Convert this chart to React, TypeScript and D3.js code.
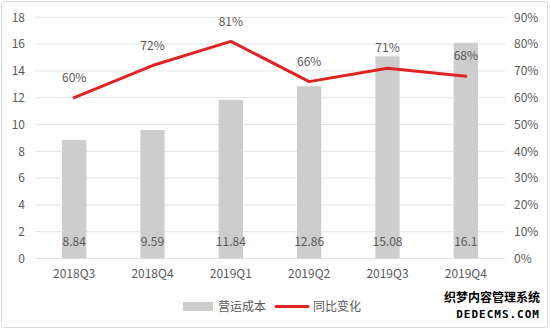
import React from "react";
import * as d3 from "d3";

const categories = ["2018Q3", "2018Q4", "2019Q1", "2019Q2", "2019Q3", "2019Q4"];
const costValues = [8.84, 9.59, 11.84, 12.86, 15.08, 16.1];
const costLabels = ["8.84", "9.59", "11.84", "12.86", "15.08", "16.1"];
const yoyValues = [60, 72, 81, 66, 71, 68];
const leftTicks = [0, 2, 4, 6, 8, 10, 12, 14, 16, 18];
const rightTicks = [0, 10, 20, 30, 40, 50, 60, 70, 80, 90];
const legendNames = ["营运成本", "同比变化"];

const W = 550;
const H = 330;
const plotLeft = 35;
const plotRight = 505;
const plotTop = 17.3;
const plotBottom = 258.5;
const font = "'Noto Sans CJK SC', 'Liberation Sans', sans-serif";
const textColor = "#595959";

export default function App() {
  const x = d3.scaleBand<string>().domain(categories).range([plotLeft, plotRight]).paddingInner(0.69).paddingOuter(0.345);
  const yL = d3.scaleLinear().domain([0, 18]).range([plotBottom, plotTop]);
  const yR = d3.scaleLinear().domain([0, 90]).range([plotBottom, plotTop]);
  const cx = (c: string) => (x(c) as number) + x.bandwidth() / 2;
  const line = d3
    .line<number>()
    .x((_, i) => cx(categories[i]))
    .y((d) => yR(d));

  return (
    <svg width={W} height={H} style={{ position: "absolute", left: 0, top: 0 }} fontFamily={font}>
      <rect x={0} y={0} width={W} height={H} fill="#ffffff" />
      <rect x={1.5} y={1.5} width={W - 4} height={H - 4} fill="none" stroke="#d9d9d9" strokeWidth={1} rx={3} />
      {leftTicks.map((t) => (
        <line key={"g" + t} x1={plotLeft} x2={plotRight} y1={yL(t)} y2={yL(t)} stroke="#e3e3e3" strokeWidth={1} />
      ))}
      {leftTicks.map((t) => (
        <text key={"l" + t} x={25} y={yL(t)} dy="0.35em" textAnchor="end" fontSize={12} fill={textColor}>
          {t}
        </text>
      ))}
      {rightTicks.map((t) => (
        <text key={"r" + t} x={514} y={yR(t)} dy="0.35em" textAnchor="start" fontSize={12} fill={textColor}>
          {t + "%"}
        </text>
      ))}
      {categories.map((c, i) => (
        <rect key={"b" + c} x={x(c)} y={yL(costValues[i])} width={x.bandwidth()} height={plotBottom - yL(costValues[i])} fill="#cdcdcd" />
      ))}
      {categories.map((c, i) => (
        <text key={"bl" + c} x={cx(c)} y={241.5} dy="0.35em" textAnchor="middle" fontSize={12} fill={textColor}>
          {costLabels[i]}
        </text>
      ))}
      {categories.map((c) => (
        <text key={"x" + c} x={cx(c)} y={273.5} dy="0.35em" textAnchor="middle" fontSize={12} fill={textColor}>
          {c}
        </text>
      ))}
      <path d={line(yoyValues) || ""} fill="none" stroke="#e02424" strokeWidth={3} strokeLinejoin="round" strokeLinecap="round" />
      {categories.map((c, i) => (
        <text key={"pl" + c} x={cx(c)} y={yR(yoyValues[i]) - 20} dy="0.35em" textAnchor="middle" fontSize={12} fill={textColor}>
          {yoyValues[i] + "%"}
        </text>
      ))}
      <rect x={183} y={302} width={30} height={9} fill="#cdcdcd" />
      <text x={218} y={306.5} dy="0.35em" fontSize={12} fill={textColor}>
        {legendNames[0]}
      </text>
      <line x1={276} x2={308} y1={306.5} y2={306.5} stroke="#e02424" strokeWidth={3} strokeLinecap="round" />
      <text x={313} y={306.5} dy="0.35em" fontSize={12} fill={textColor}>
        {legendNames[1]}
      </text>
      <g fontWeight="bold" fill="#000" stroke="#fff" strokeWidth={2} paintOrder="stroke">
        <text x={540} y={302} textAnchor="end" fontSize={12}>织梦内容管理系统</text>
        <text x={540} y={318} textAnchor="end" fontSize={11} fontFamily="'DejaVu Sans Mono', monospace" letterSpacing={1}>DEDECMS.COM</text>
      </g>
    </svg>
  );
}
